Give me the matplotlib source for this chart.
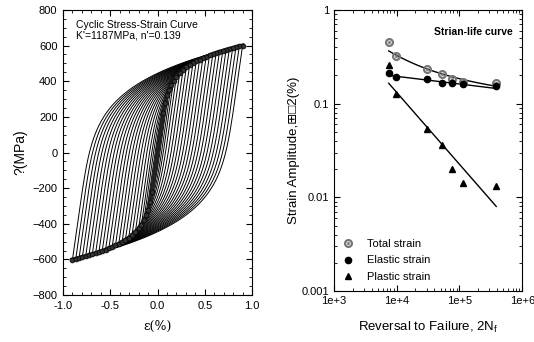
import matplotlib
matplotlib.use("Agg")
import matplotlib.pyplot as plt
import numpy as np
from matplotlib.ticker import MultipleLocator, FixedLocator, LogLocator, NullFormatter

plt.rcParams['font.family'] = ['Liberation Sans', 'DejaVu Sans']

# loop-branch parameters (Ramberg-Osgood / Masing), tuned to the drawn loops
K_loop = 1316.0   # MPa
n_loop = 0.16
E_mod = 375000.0   # MPa, apparent modulus read from the loops
# strain amplitudes of the plotted loops (%)
strain_amps = [0.9, 0.865, 0.83, 0.795, 0.76, 0.725, 0.69, 0.655, 0.62, 0.585,
               0.55, 0.515, 0.48, 0.445, 0.41, 0.375, 0.34, 0.305, 0.27, 0.235,
               0.2, 0.17, 0.145, 0.12, 0.1, 0.08, 0.06]

# strain-life data
reversals = [7.5e3, 9.7e3, 3.05e4, 5.3e4, 7.5e4, 1.16e5, 3.85e5]
total_strain = [0.459, 0.323, 0.234, 0.205, 0.182, 0.172, 0.165]
elastic_strain = [0.211, 0.194, 0.182, 0.166, 0.165, 0.161, 0.154]
plastic_strain = [0.259, 0.127, 0.0532, 0.0362, 0.0201, 0.0141, 0.0133]
# fitted Basquin / Coffin-Manson lines (%)
el_coef, el_exp = 0.415, -0.0817
pl_coef, pl_exp = 156.0, -0.768


def ro_strain(s):
    return 100 * s / E_mod + 100 * np.sign(s) * (np.abs(s) / K_loop) ** (1 / n_loop)


fig = plt.figure(figsize=(5.34, 3.42), dpi=100)

# ---------------- left: hysteresis loops ----------------
ax1 = fig.add_axes([0.118, 0.137, 0.354, 0.834])
s_grid = np.linspace(0, 800, 4000)
e_grid = ro_strain(s_grid)
tips_e, tips_s = [], []
for ea in strain_amps:
    sa = np.interp(ea, e_grid, s_grid)
    s = np.linspace(sa, -sa, 200)
    ds = sa - s
    e_down = ea - 2 * ro_strain(ds / 2)
    e_up = -ea + 2 * ro_strain(ds / 2)
    ax1.plot(e_down, s, color='black', lw=0.7)
    ax1.plot(e_up, -s, color='black', lw=0.7)
    tips_e += [ea, -ea]
    tips_s += [sa, -sa]
tips_e = np.array(tips_e)
tips_s = np.array(tips_s)
order = np.argsort(tips_e)
ax1.plot(tips_e[order], tips_s[order], color='#222222', lw=3.0)
ax1.plot(tips_e, tips_s, 'o', ms=3.5, mfc='#333333', mec='black', mew=0.5)

ax1.set_xlim(-1.0, 1.0)
ax1.set_ylim(-800, 800)
ax1.xaxis.set_major_locator(MultipleLocator(0.5))
ax1.xaxis.set_minor_locator(MultipleLocator(0.1))
ax1.yaxis.set_major_locator(MultipleLocator(200))
ax1.yaxis.set_minor_locator(MultipleLocator(50))
ax1.xaxis.set_major_formatter(plt.FuncFormatter(lambda v, p: f"{v:.1f}"))
ax1.tick_params(which='both', direction='in', top=True, right=True, labelsize=8)
ax1.tick_params(which='major', length=4, pad=4)
ax1.tick_params(which='minor', length=2)
ax1.set_xlabel('ε(%)', fontsize=9, family='DejaVu Serif', labelpad=7)
ax1.set_ylabel('?(MPa)', fontsize=10, labelpad=4)
ax1.text(0.07, 0.965, "Cyclic Stress-Strain Curve\nK'=1187MPa, n'=0.139",
         transform=ax1.transAxes, fontsize=7.5, va='top', linespacing=1.1)

# ---------------- right: strain-life ----------------
ax2 = fig.add_axes([0.625, 0.149, 0.353, 0.822])
ax2.set_xscale('log')
ax2.set_yscale('log')
n_fit = np.array([reversals[0], reversals[-1]])
el_fit = el_coef * n_fit ** el_exp
pl_fit = pl_coef * n_fit ** pl_exp
n_line = np.geomspace(reversals[0], reversals[-1], 50)
ax2.plot(n_line, el_coef * n_line ** el_exp + pl_coef * n_line ** pl_exp, color='black', lw=1)
ax2.plot(n_fit, el_fit, color='black', lw=1)
ax2.plot(n_fit, pl_fit, color='black', lw=1)
ax2.plot(reversals, total_strain, linestyle='none', marker=r'$\odot$', ms=5.5,
         color='#777777', label='Total strain')
ax2.plot(reversals, elastic_strain, linestyle='none', marker='o', ms=4.5,
         color='black', label='Elastic strain')
ax2.plot(reversals, plastic_strain, linestyle='none', marker='^', ms=4.5,
         color='black', label='Plastic strain')

ax2.set_xlim(1e3, 1e6)
ax2.set_ylim(1e-3, 1)
ax2.xaxis.set_major_locator(FixedLocator([1e3, 1e4, 1e5, 1e6]))
ax2.set_xticklabels(['1e+3', '1e+4', '1e+5', '1e+6'])
ax2.yaxis.set_major_locator(FixedLocator([1e-3, 1e-2, 1e-1, 1]))
ax2.set_yticklabels(['0.001', '0.01', '0.1', '1'])
ax2.xaxis.set_minor_locator(LogLocator(base=10, subs=np.arange(2, 10)))
ax2.yaxis.set_minor_locator(LogLocator(base=10, subs=np.arange(2, 10)))
ax2.xaxis.set_minor_formatter(NullFormatter())
ax2.yaxis.set_minor_formatter(NullFormatter())
ax2.tick_params(which='both', direction='in', top=True, right=True, labelsize=8)
ax2.tick_params(which='major', length=4)
ax2.tick_params(which='minor', length=2)
ax2.set_xlabel('Reversal to Failure, 2N$_\\mathregular{f}$', fontsize=9.5, labelpad=10)
ax2.set_ylabel('Strain Amplitude,\u229e\u25a12(%)', fontsize=9.5, labelpad=1)
ax2.text(0.95, 0.94, 'Strian-life curve', transform=ax2.transAxes, fontsize=7.5,
         fontweight='bold', ha='right', va='top')
ax2.legend(loc='lower left', frameon=False, fontsize=8, handletextpad=1.2,
           borderaxespad=0.4, labelspacing=0.6, handlelength=1.0)

fig.savefig('out.png', dpi=100)
